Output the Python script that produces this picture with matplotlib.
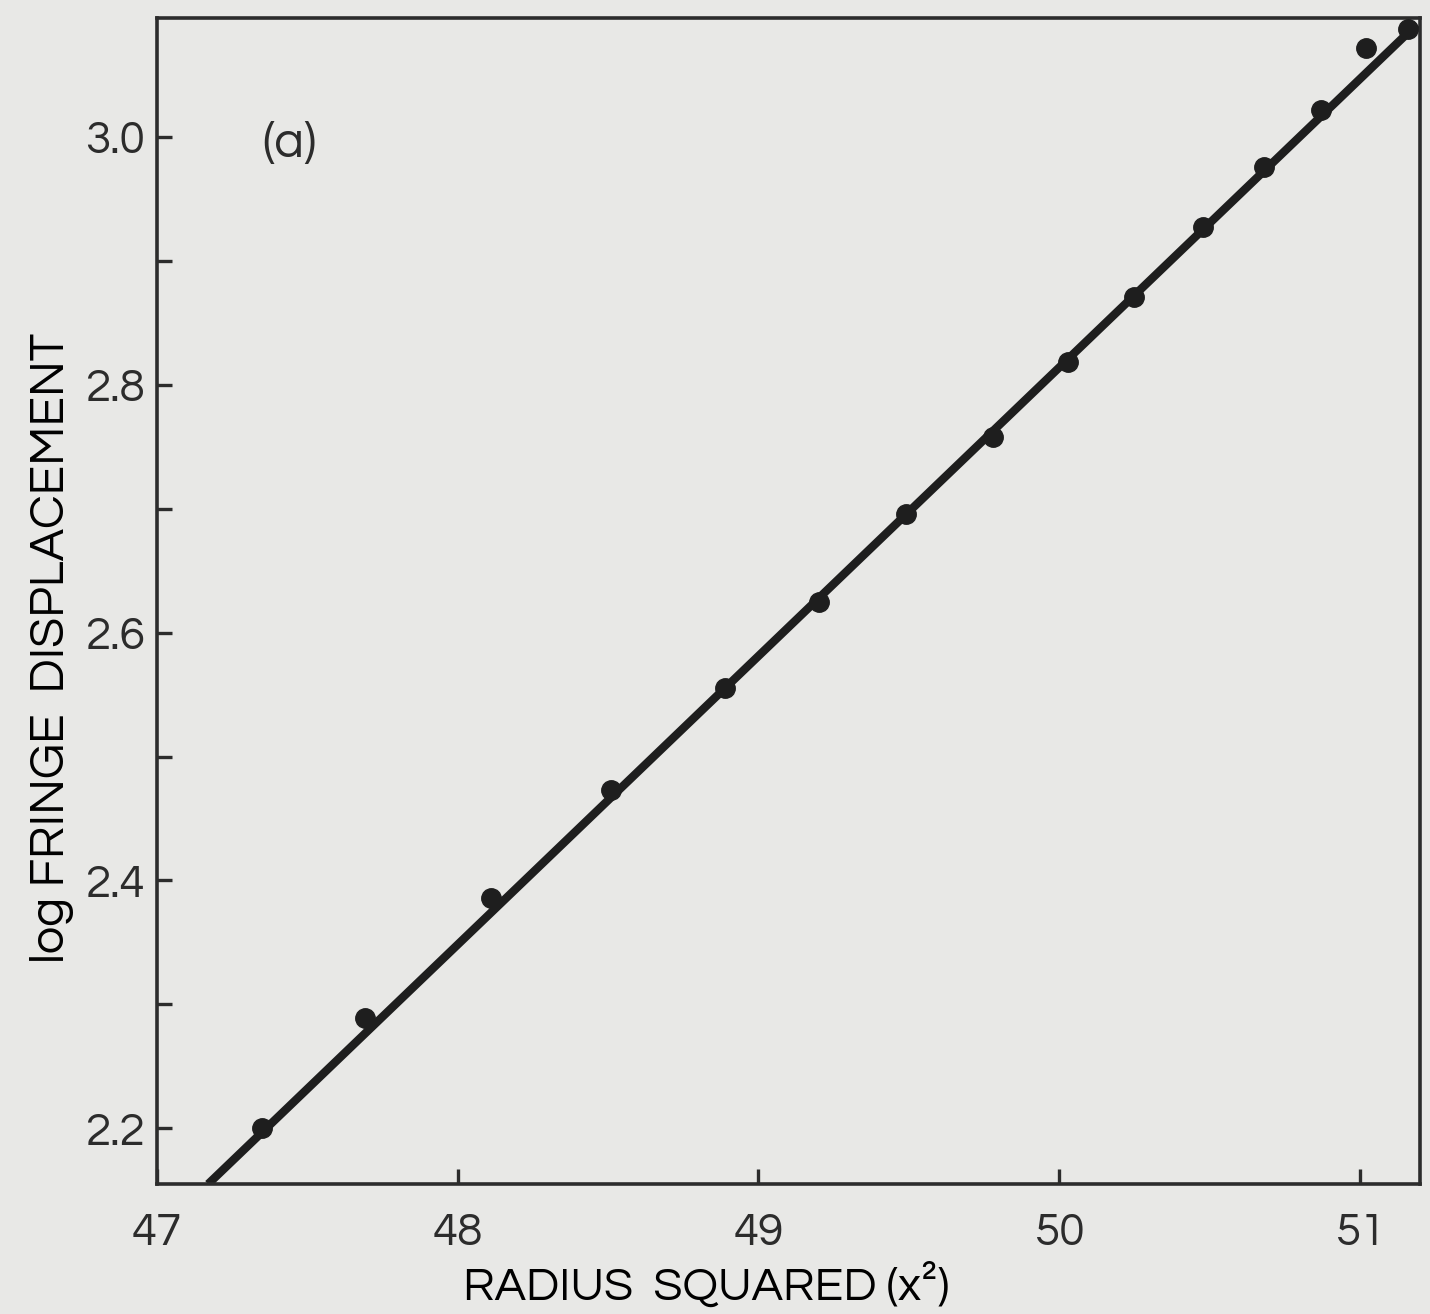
"""
Fringe displacement vs radius squared, panel (a).

Saves out.png (1430x1314).
"""

import matplotlib.pyplot as plt
from matplotlib.ticker import MultipleLocator

BG = "#e8e8e6"
FG = "#2c2c2c"
FONT = ["Questrial", "Lato", "DejaVu Sans"]

# measured points
radius_sq = [47.35, 47.69, 48.11, 48.51, 48.89, 49.20, 49.49, 49.78,
             50.03, 50.25, 50.48, 50.68, 50.87, 51.02, 51.16]
log_disp = [2.200, 2.289, 2.386, 2.473, 2.555, 2.625, 2.696, 2.758,
            2.818, 2.871, 2.927, 2.976, 3.022, 3.072, 3.087]

# fitted straight line (end points)
fit_x = [47.17, 51.19]
fit_y = [2.155, 3.091]

x_ticks = [47, 48, 49, 50, 51]
y_ticks = [2.2, 2.4, 2.6, 2.8, 3.0]

plt.rcParams.update(
    {
        "font.family": FONT,
        "figure.facecolor": BG,
        "axes.facecolor": BG,
        "savefig.facecolor": BG,
        "text.color": FG,
        "axes.edgecolor": FG,
        "xtick.color": FG,
        "ytick.color": FG,
    }
)

fig = plt.figure(figsize=(14.3, 13.14), dpi=100)
ax = fig.add_axes([0.1098, 0.0989, 0.8832, 0.8874])

ax.plot(fit_x, fit_y, color="#1e1e1e", linewidth=6, solid_capstyle="butt", zorder=2)
ax.plot(radius_sq, log_disp, "o", color="#1e1e1e", markersize=14, zorder=3)

ax.set_xlim(47.0, 51.2)
ax.set_ylim(2.155, 3.096)

ax.set_xticks(x_ticks)
ax.set_xticklabels([str(v) for v in x_ticks])
ax.set_yticks(y_ticks)
ax.set_yticklabels([f"{v:.1f}" for v in y_ticks])
ax.yaxis.set_minor_locator(MultipleLocator(0.1))

ax.tick_params(axis="both", which="both", direction="in", width=2.4,
               labelsize=33, colors=FG)
ax.tick_params(axis="x", which="major", length=11, pad=20)
ax.tick_params(axis="y", which="major", length=11, pad=9)
ax.tick_params(axis="y", which="minor", length=11)

for spine in ax.spines.values():
    spine.set_linewidth(2.6)

ax.set_xlabel("RADIUS  SQUARED (x²)", fontsize=34)
ax.xaxis.set_label_coords(0.435, -0.067)
ax.set_ylabel("log FRINGE  DISPLACEMENT", fontsize=35)
ax.yaxis.set_label_coords(-0.066, 0.46)

ax.text(47.44, 2.994, "(a)", fontsize=36, ha="center", va="center")

fig.savefig("out.png", dpi=100)
